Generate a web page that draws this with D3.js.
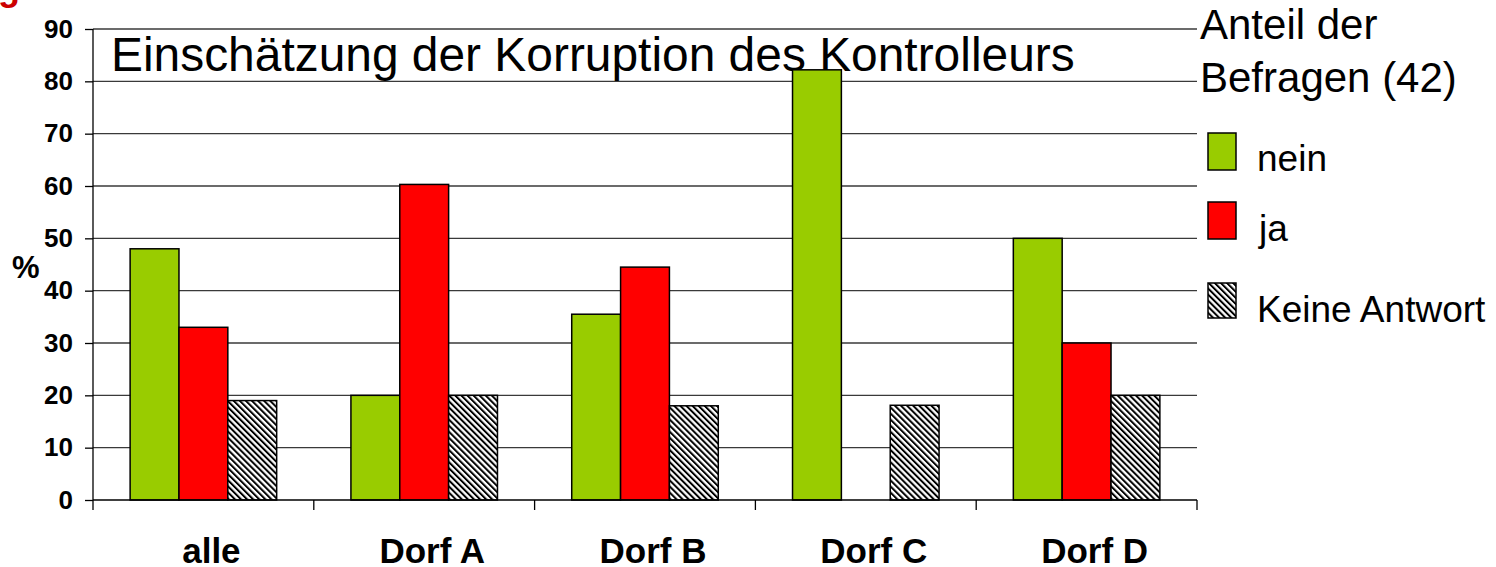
<!DOCTYPE html>
<html>
<head>
<meta charset="utf-8">
<script src="https://cdn.jsdelivr.net/npm/d3@7/dist/d3.min.js"></script>
<style>
  html, body { margin: 0; padding: 0; background: #fff; }
  svg { display: block; font-family: "Liberation Sans", Arial, sans-serif; }
</style>
</head>
<body>
<svg id="chart" width="1496" height="567"></svg>
<script>
const categories = ["alle", "Dorf A", "Dorf B", "Dorf C", "Dorf D"];
const seriesNames = ["nein", "ja", "Keine Antwort"];
const neinValues = [48, 20, 35.5, 82.2, 50];
const jaValues = [33, 60.3, 44.5, 0, 30];
const keineValues = [19, 20, 18, 18.1, 20];
const yTicks = [0, 10, 20, 30, 40, 50, 60, 70, 80, 90];
const titleText = "Einschätzung der Korruption des Kontrolleurs";
const legendTitle = ["Anteil der", "Befragen (42)"];
const yAxisLabel = "%";

const seriesValues = { "nein": neinValues, "ja": jaValues, "Keine Antwort": keineValues };
const seriesFill = { "nein": "#99cc00", "ja": "#ff0000", "Keine Antwort": "url(#hatch)" };

const svg = d3.select("#chart");
const defs = svg.append("defs");
const pat = defs.append("pattern")
  .attr("id", "hatch").attr("patternUnits", "userSpaceOnUse")
  .attr("width", 4.3).attr("height", 4.3)
  .attr("patternTransform", "rotate(-45)");
pat.append("rect").attr("width", 4.3).attr("height", 4.3).attr("fill", "#fff");
pat.append("rect").attr("width", 2.0).attr("height", 4.3).attr("fill", "#000");

const pLeft = 93, pRight = 1197, pTop = 29, pBottom = 500;
const x = d3.scaleBand().domain(categories).range([pLeft, pRight]).padding(0);
const xi = d3.scaleBand().domain(seriesNames).range([0, x.bandwidth()]).paddingInner(0).paddingOuter(0.76);
const y = d3.scaleLinear().domain([0, 90]).range([pBottom, pTop]);

// red cut-off glyph at top-left
svg.append("text").attr("x", -2).attr("y", 0).attr("font-size", 36)
  .attr("font-weight", "bold").attr("fill", "#cc0000").text("g");

// gridlines
svg.append("g").selectAll("line").data(yTicks.filter(d => d > 0)).join("line")
  .attr("x1", pLeft).attr("x2", pRight)
  .attr("y1", d => y(d)).attr("y2", d => y(d))
  .attr("stroke", "#3a3a3a").attr("stroke-width", 1.3);

// title
svg.append("text").attr("x", 111).attr("y", 71).attr("font-size", 47.9)
  .attr("fill", "#000").text(titleText);

// bars
const groups = svg.append("g").selectAll("g").data(categories).join("g")
  .attr("transform", d => `translate(${x(d)},0)`);
groups.selectAll("rect")
  .data((c, i) => seriesNames.map(s => ({ s, v: seriesValues[s][i] })).filter(d => d.v > 0))
  .join("rect")
  .attr("x", d => xi(d.s)).attr("width", xi.bandwidth())
  .attr("y", d => y(d.v)).attr("height", d => y(0) - y(d.v))
  .attr("fill", d => seriesFill[d.s])
  .attr("stroke", "#000").attr("stroke-width", 1.5);

// y axis
const yAxis = d3.axisLeft(y).tickValues(yTicks).tickSize(8).tickPadding(12);
const gy = svg.append("g").attr("transform", `translate(${pLeft},0)`).call(yAxis);
gy.select(".domain").attr("stroke", "#000").attr("stroke-width", 1.3).attr("d", `M0,${pTop}V${pBottom}`);
gy.selectAll(".tick line").attr("stroke", "#000").attr("stroke-width", 1.3);
gy.selectAll(".tick text").attr("font-size", 26).attr("font-weight", "bold")
  .attr("fill", "#000").attr("font-family", "Liberation Sans, Arial, sans-serif");

// x axis
const gx = svg.append("g").attr("transform", `translate(0,${pBottom})`);
gx.append("line").attr("x1", pLeft).attr("x2", pRight).attr("y1", 0).attr("y2", 0)
  .attr("stroke", "#000").attr("stroke-width", 1.3);
const boundaries = categories.map(c => x(c)).concat([x(categories[categories.length - 1]) + x.bandwidth()]);
gx.selectAll("line.tk").data(boundaries).join("line").attr("class", "tk")
  .attr("x1", d => d).attr("x2", d => d).attr("y1", 0).attr("y2", 10)
  .attr("stroke", "#000").attr("stroke-width", 1.3);
gx.selectAll("text").data(categories).join("text")
  .attr("x", d => x(d) + x.bandwidth() / 2 + 8).attr("y", 63)
  .attr("text-anchor", "middle").attr("font-size", 35).attr("font-weight", "bold")
  .attr("fill", "#000").text(d => d);

// y axis label
svg.append("text").attr("x", 12).attr("y", 278).attr("font-size", 31)
  .attr("font-weight", "bold").attr("fill", "#000").text(yAxisLabel);

// legend
svg.append("g").selectAll("text").data(legendTitle).join("text")
  .attr("x", 1200).attr("y", (d, i) => 39 + i * 53)
  .attr("font-size", 42).attr("fill", "#000").text(d => d);
const legendSwatchY = { "nein": 133, "ja": 202, "Keine Antwort": 283 };
const legendTextY = { "nein": 171, "ja": 241, "Keine Antwort": 322 };
const legendTextX = { "nein": 1257, "ja": 1259, "Keine Antwort": 1257 };
const lg = svg.append("g").selectAll("g").data(seriesNames).join("g");
lg.append("rect").attr("x", 1208).attr("y", d => legendSwatchY[d])
  .attr("width", 28).attr("height", d => d === "Keine Antwort" ? 35 : 37)
  .attr("fill", d => seriesFill[d]).attr("stroke", "#000").attr("stroke-width", 1.5);
lg.append("text").attr("x", d => legendTextX[d]).attr("y", d => legendTextY[d])
  .attr("font-size", 37).attr("fill", "#000").text(d => d);
</script>
</body>
</html>
